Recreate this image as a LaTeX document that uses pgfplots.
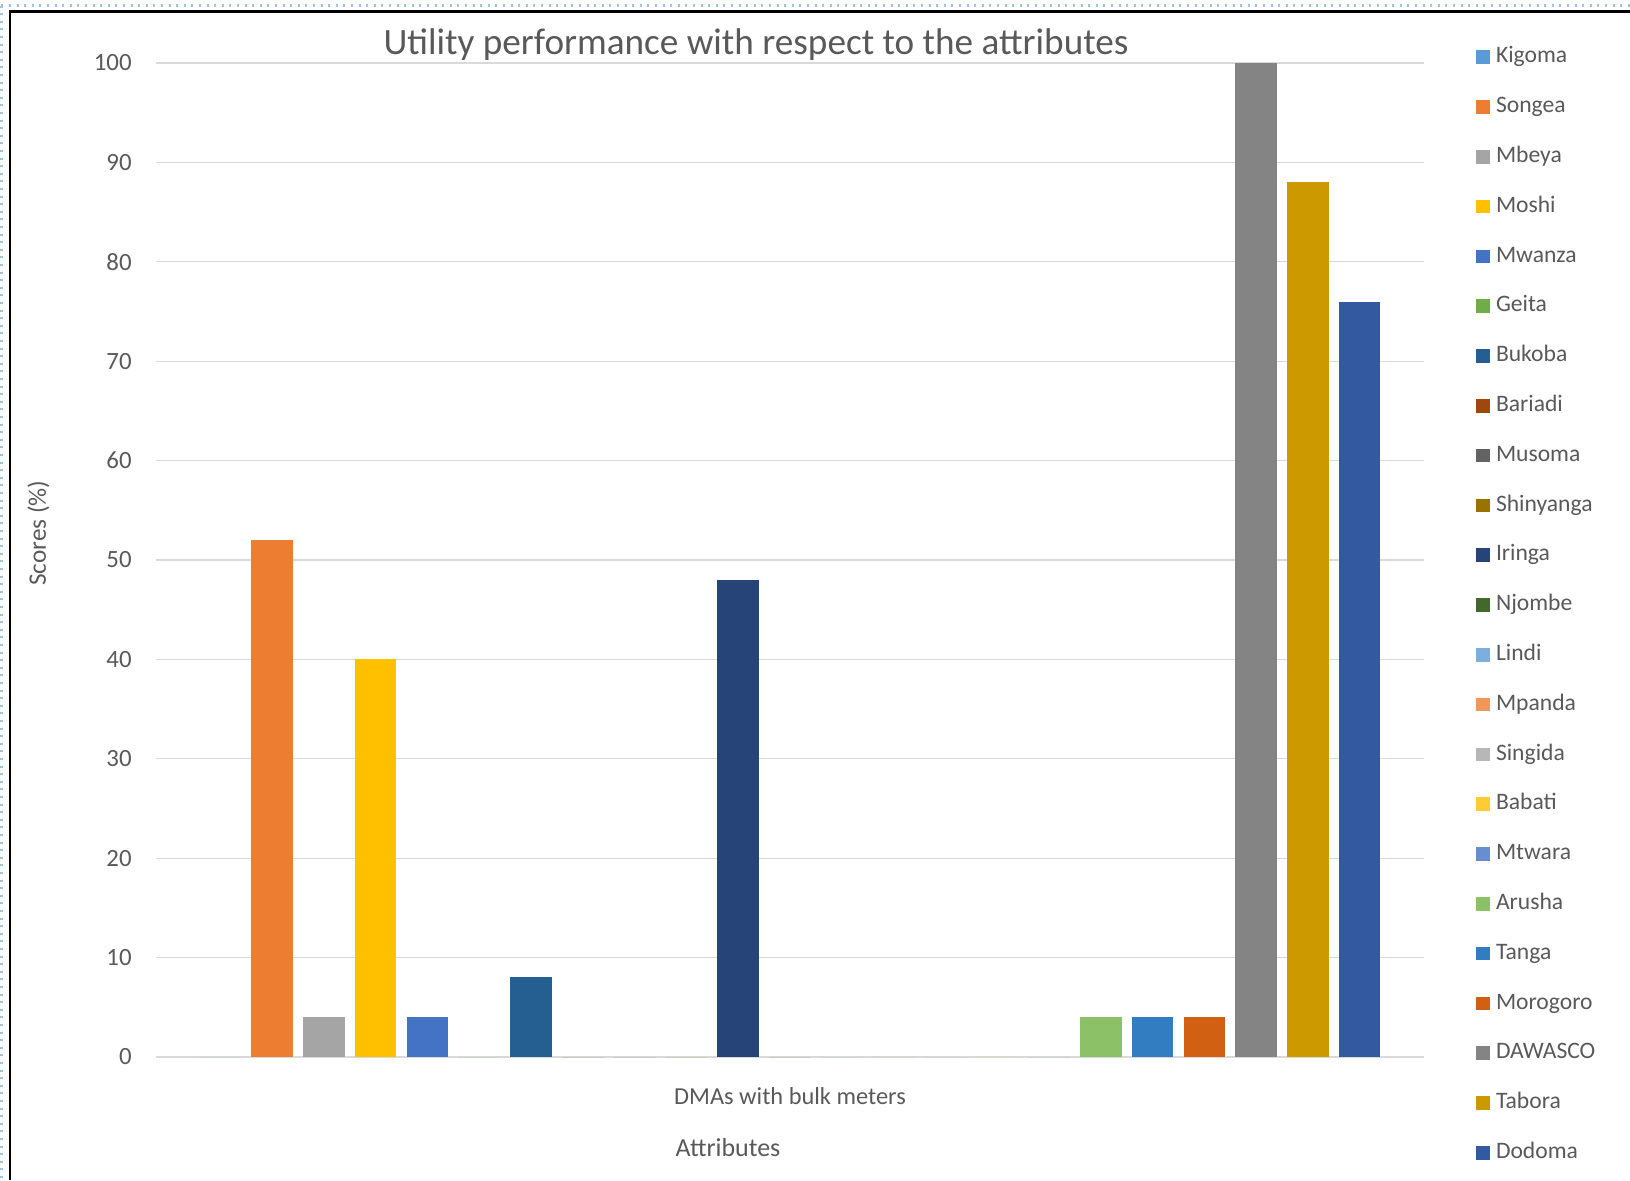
\documentclass[border=0pt]{standalone}
\usepackage{pgfplots}
\pgfplotsset{compat=1.18}
\usepackage{fontspec}
\setmainfont{Carlito}
\definecolor{txt}{HTML}{595959}
\definecolor{grd}{HTML}{D9D9D9}
\definecolor{c1}{HTML}{5B9BD5}
\definecolor{c2}{HTML}{ED7D31}
\definecolor{c3}{HTML}{A5A5A5}
\definecolor{c4}{HTML}{FFC000}
\definecolor{c5}{HTML}{4472C4}
\definecolor{c6}{HTML}{70AD47}
\definecolor{c7}{HTML}{255E91}
\definecolor{c8}{HTML}{9E480E}
\definecolor{c9}{HTML}{636363}
\definecolor{c10}{HTML}{997300}
\definecolor{c11}{HTML}{264478}
\definecolor{c12}{HTML}{43682B}
\definecolor{c13}{HTML}{7CAFDD}
\definecolor{c14}{HTML}{F1975A}
\definecolor{c15}{HTML}{B7B7B7}
\definecolor{c16}{HTML}{FFCD33}
\definecolor{c17}{HTML}{698ED0}
\definecolor{c18}{HTML}{8CC168}
\definecolor{c19}{HTML}{327DC2}
\definecolor{c20}{HTML}{D26012}
\definecolor{c21}{HTML}{848484}
\definecolor{c22}{HTML}{CC9A00}
\definecolor{c23}{HTML}{335AA1}
\definecolor{dotblue}{HTML}{9DC3E6}
\begin{document}
\begin{tikzpicture}
\useasboundingbox (-78pt,-61.5pt) rectangle (737pt,528.5pt);
\draw[dotblue, line width=1.2pt, dash pattern=on 1pt off 2.8pt] (-77.3pt,525.7pt) -- (737pt,525.7pt);
\draw[dotblue, line width=1.2pt, dash pattern=on 1pt off 2.8pt] (-77.3pt,525.7pt) -- (-77.3pt,-61.5pt);
\draw[black, line width=1.4pt] (-73pt,-61.5pt) -- (-73pt,522.75pt) -- (737pt,522.75pt);
\begin{axis}[
  scale only axis,
  width=634pt, height=497pt,
  xmin=-1.24, xmax=23.24,
  ymin=0, ymax=100,
  ytick={0,10,...,100},
  xtick=\empty,
  axis line style={draw=none},
  major tick length=0pt,
  ymajorgrids,
  grid style={grd, line width=0.6pt},
  /pgf/number format/assume math mode=true,
  yticklabel style={font=\fontsize{12.4}{14}\selectfont, text=txt, inner sep=0pt, xshift=-12pt},
  ybar, bar width=0.8, bar shift=0pt,
  legend cell align=left,
  legend image code/.code={\fill[#1] (0pt,-3.3pt) rectangle (6.8pt,3.5pt);},
  legend style={at={(1,1)}, anchor=north west, xshift=26pt, yshift=8.3pt,
    draw=none, fill=none, inner sep=0pt, row sep=14.4pt, column sep=3pt,
    font=\fontsize{11.8}{14}\selectfont, text=txt,
    nodes={inner sep=0pt, text height=8pt, text depth=2.5pt}},
  clip=false,
]
\addplot[fill=c1, draw=none] coordinates {(0,0)};
\addlegendentry{Kigoma}
\addplot[fill=c2, draw=none] coordinates {(1,52)};
\addlegendentry{Songea}
\addplot[fill=c3, draw=none] coordinates {(2,4)};
\addlegendentry{Mbeya}
\addplot[fill=c4, draw=none] coordinates {(3,40)};
\addlegendentry{Moshi}
\addplot[fill=c5, draw=none] coordinates {(4,4)};
\addlegendentry{Mwanza}
\addplot[fill=c6, draw=none] coordinates {(5,0)};
\addlegendentry{Geita}
\addplot[fill=c7, draw=none] coordinates {(6,8)};
\addlegendentry{Bukoba}
\addplot[fill=c8, draw=none] coordinates {(7,0)};
\addlegendentry{Bariadi}
\addplot[fill=c9, draw=none] coordinates {(8,0)};
\addlegendentry{Musoma}
\addplot[fill=c10, draw=none] coordinates {(9,0)};
\addlegendentry{Shinyanga}
\addplot[fill=c11, draw=none] coordinates {(10,48)};
\addlegendentry{Iringa}
\addplot[fill=c12, draw=none] coordinates {(11,0)};
\addlegendentry{Njombe}
\addplot[fill=c13, draw=none] coordinates {(12,0)};
\addlegendentry{Lindi}
\addplot[fill=c14, draw=none] coordinates {(13,0)};
\addlegendentry{Mpanda}
\addplot[fill=c15, draw=none] coordinates {(14,0)};
\addlegendentry{Singida}
\addplot[fill=c16, draw=none] coordinates {(15,0)};
\addlegendentry{Babati}
\addplot[fill=c17, draw=none] coordinates {(16,0)};
\addlegendentry{Mtwara}
\addplot[fill=c18, draw=none] coordinates {(17,4)};
\addlegendentry{Arusha}
\addplot[fill=c19, draw=none] coordinates {(18,4)};
\addlegendentry{Tanga}
\addplot[fill=c20, draw=none] coordinates {(19,4)};
\addlegendentry{Morogoro}
\addplot[fill=c21, draw=none] coordinates {(20,100)};
\addlegendentry{DAWASCO}
\addplot[fill=c22, draw=none] coordinates {(21,88)};
\addlegendentry{Tabora}
\addplot[fill=c23, draw=none] coordinates {(22,76)};
\addlegendentry{Dodoma}
\end{axis}
\node[text=txt, font=\fontsize{18.6}{22}\selectfont] at (300pt,506.2pt) {Utility performance with respect to the attributes};
\node[text=txt, font=\fontsize{12.6}{15}\selectfont, rotate=90] at (-58.8pt,262pt) {Scores (\%)};
\node[text=txt, font=\fontsize{12.2}{15}\selectfont] at (317pt,-19.5pt) {DMAs with bulk meters};
\node[text=txt, font=\fontsize{13}{16}\selectfont] at (286pt,-45.5pt) {Attributes};
\end{tikzpicture}
\end{document}
